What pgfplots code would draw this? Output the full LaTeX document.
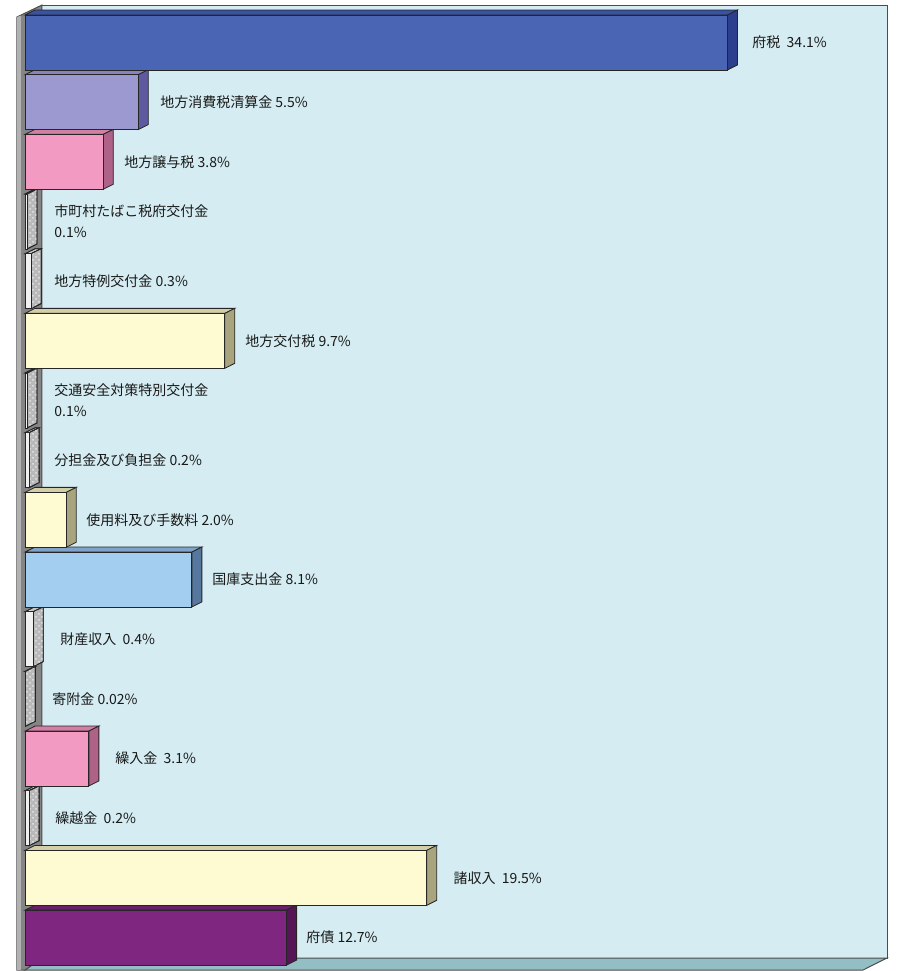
\documentclass[border=0pt]{standalone}
\usepackage{fontspec}
\usepackage{pgfplots}
\pgfplotsset{compat=1.18}
\usetikzlibrary{patterns}
\newfontfamily\cjk{Noto Sans CJK JP}
\protected\def\nl{\\}
\definecolor{wallback}{HTML}{D5EDF2}
\definecolor{floorc}{HTML}{93BEC3}
\definecolor{wallleft}{HTML}{858585}
\definecolor{bluef}{HTML}{4A65B3}\definecolor{bluet}{HTML}{3A52A2}\definecolor{blues}{HTML}{2C3F8E}
\definecolor{lavf}{HTML}{9C99D0}\definecolor{lavt}{HTML}{8683C0}\definecolor{lavs}{HTML}{5E5AA0}
\definecolor{pinkf}{HTML}{F29AC2}\definecolor{pinkt}{HTML}{D27FA4}\definecolor{pinks}{HTML}{AE6288}
\definecolor{yelf}{HTML}{FEFAD2}\definecolor{yelt}{HTML}{D2CFA8}\definecolor{yels}{HTML}{A8A47E}
\definecolor{ltbf}{HTML}{A3CEEF}\definecolor{ltbt}{HTML}{7FA3CA}\definecolor{ltbs}{HTML}{56779E}
\definecolor{purf}{HTML}{7E2680}\definecolor{purt}{HTML}{6A1E6C}\definecolor{purs}{HTML}{561656}
\tikzset{
  ol/.style={draw=black!85, line width=0.4pt},
  gf/.style={ol, fill=gray!12},
  gt/.style={ol, fill=gray!45, postaction={pattern=crosshatch dots, pattern color=gray!15}},
  gs/.style={ol, fill=gray!55, postaction={pattern=crosshatch dots, pattern color=gray!20}},
}
\newcommand{\tdbar}[5]{%
  \pgfmathsetmacro\ya{#1-0.46}%
  \pgfmathsetmacro\yb{#1+0.46}%
  \pgfmathsetmacro\yc{#1-0.544}%
  \pgfmathsetmacro\yd{#1+0.376}%
  \pgfmathsetmacro\xr{#2+0.485}%
  \addplot[#4] coordinates {(0,\ya) (#2,\ya) (\xr,\yc) (0.485,\yc)} -- cycle;
  \addplot[#5] coordinates {(#2,\ya) (\xr,\yc) (\xr,\yd) (#2,\yb)} -- cycle;
  \addplot[#3] coordinates {(0,\ya) (#2,\ya) (#2,\yb) (0,\yb)} -- cycle;
}
\begin{document}
\begin{tikzpicture}
\begin{axis}[at={(8.5pt,0.5pt)}, anchor=south west, scale only axis,
  width=435pt, height=482.5pt,
  xmin=-0.388, xmax=41.84, ymin=-0.628, ymax=15.544,
  y dir=reverse, axis lines=none, clip=false]
% back wall
\addplot[fill=wallback, draw=black!70, line width=0.5pt] coordinates {(0.825,-0.628) (41.84,-0.628) (41.84,15.343) (0.825,15.343)} -- cycle;
% floor
\addplot[fill=floorc, draw=black!70, line width=0.5pt] coordinates {(0,15.544) (40.68,15.544) (41.84,15.343) (0.825,15.343)} -- cycle;
% left wall
\addplot[fill=wallleft, draw=black!70, line width=0.5pt] coordinates {(-0.388,-0.427) (0.825,-0.628) (0.825,15.343) (0,15.544) (-0.388,15.544)} -- cycle;
\addplot[fill=gray!60, draw=none] coordinates {(-0.388,-0.427) (-0.2,-0.45) (-0.2,15.544) (-0.388,15.544)} -- cycle;
% bars (bottom to top)
\tdbar{15}{12.7}{ol,fill=purf}{ol,fill=purt}{ol,fill=purs}
\tdbar{14}{19.5}{ol,fill=yelf}{ol,fill=yelt}{ol,fill=yels}
\tdbar{13}{0.2}{gf}{gt}{gs}
\tdbar{12}{3.1}{ol,fill=pinkf}{ol,fill=pinkt}{ol,fill=pinks}
\tdbar{11}{0.02}{gf}{gt}{gs}
\tdbar{10}{0.4}{gf}{gt}{gs}
\tdbar{9}{8.1}{ol,fill=ltbf}{ol,fill=ltbt}{ol,fill=ltbs}
\tdbar{8}{2.0}{ol,fill=yelf}{ol,fill=yelt}{ol,fill=yels}
\tdbar{7}{0.2}{gf}{gt}{gs}
\tdbar{6}{0.1}{gf}{gt}{gs}
\tdbar{5}{9.7}{ol,fill=yelf}{ol,fill=yelt}{ol,fill=yels}
\tdbar{4}{0.3}{gf}{gt}{gs}
\tdbar{3}{0.1}{gf}{gt}{gs}
\tdbar{2}{3.8}{ol,fill=pinkf}{ol,fill=pinkt}{ol,fill=pinks}
\tdbar{1}{5.5}{ol,fill=lavf}{ol,fill=lavt}{ol,fill=lavs}
\tdbar{0}{34.1}{ol,fill=bluef}{ol,fill=bluet}{ol,fill=blues}
% labels
\addplot[draw=none, mark=none, nodes near coords, point meta=explicit symbolic,
  nodes near coords align=horizontal,
  every node near coord/.append style={anchor=west, inner sep=0pt, align=left,
    font=\cjk\fontsize{7}{10.5}\selectfont, text=black!90}]
  coordinates {
  (35.29,0) [府税\ \ 34.1\%]
  (6.55,1) [地方消費税清算金 5.5\%]
  (4.81,2) [地方譲与税 3.8\%]
  (1.41,3) [市町村たばこ税府交付金\nl 0.1\%]
  (1.41,4) [地方特例交付金 0.3\%]
  (10.68,5) [地方交付税 9.7\%]
  (1.41,6) [交通安全対策特別交付金\nl 0.1\%]
  (1.41,7) [分担金及び負担金 0.2\%]
  (2.96,8) [使用料及び手数料 2.0\%]
  (9.08,9) [国庫支出金 8.1\%]
  (1.70,10) [財産収入\ \ 0.4\%]
  (1.31,11) [寄附金 0.02\%]
  (4.37,12) [繰入金\ \ 3.1\%]
  (1.46,13) [繰越金\ \ 0.2\%]
  (20.78,14) [諸収入\ \ 19.5\%]
  (13.64,15) [府債 12.7\%]
  };
\end{axis}
\pgfresetboundingbox
\path[use as bounding box] (0,0) rectangle (449.5pt,485.5pt);
\end{tikzpicture}
\end{document}
